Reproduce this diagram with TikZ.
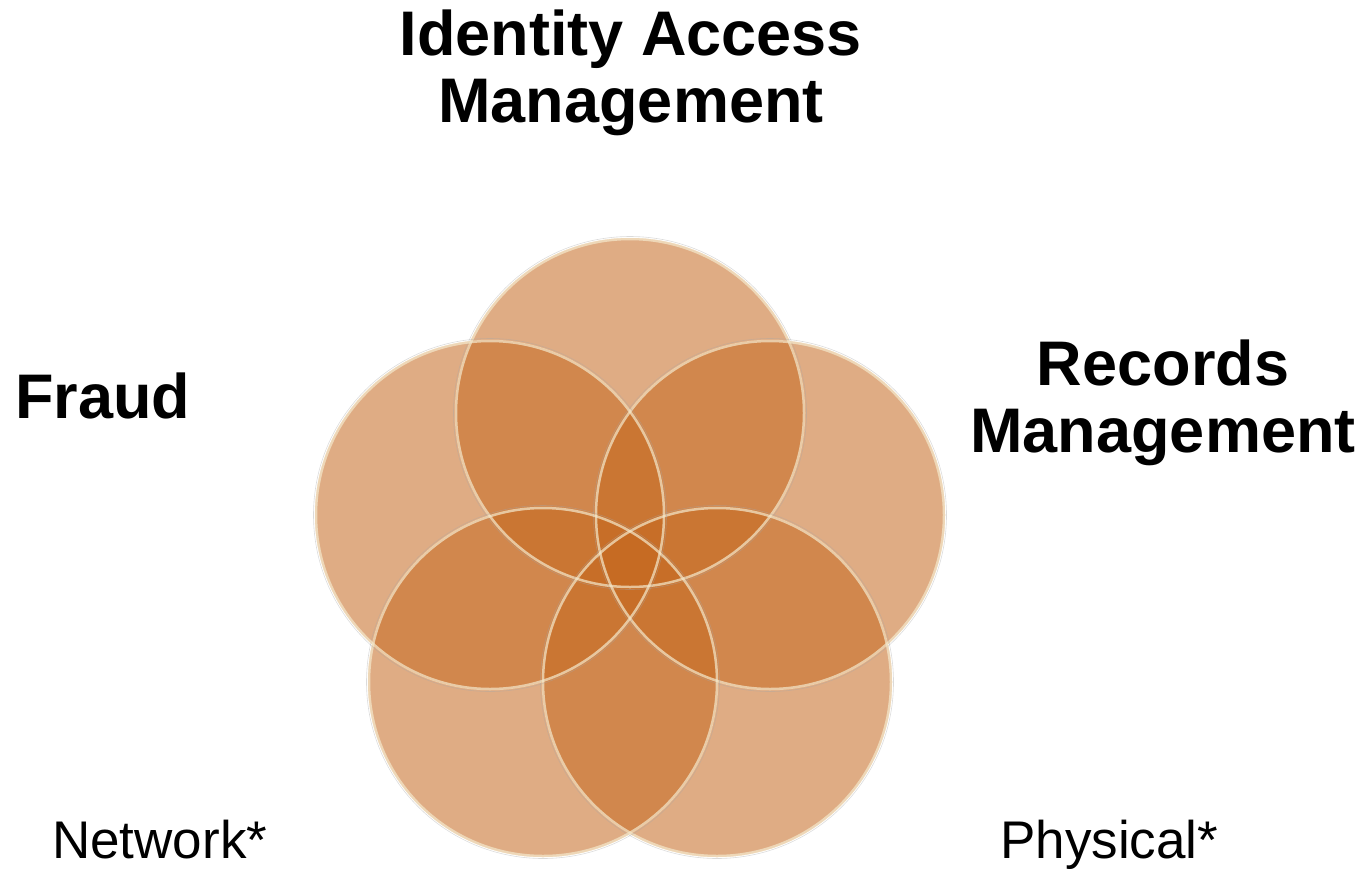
\documentclass[tikz,border=0pt]{standalone}
\usepackage{fontspec}
\setmainfont{Liberation Sans}
\usepackage{xcolor}
\usetikzlibrary{calc,positioning}
\definecolor{petalfill}{RGB}{197,104,31}
\definecolor{petalrim}{RGB}{244,234,206}
\tikzset{
  petal/.style={circle,minimum size=350pt,inner sep=0pt,fill=petalfill,fill opacity=.55},
  rim/.style={draw=petalrim,line width=2.5pt,draw opacity=.7},
  shade/.style={draw=black!35,line width=.6pt,draw opacity=.4},
  bigtitle/.style={font=\fontsize{63}{67}\selectfont\bfseries,align=center,inner sep=0pt,anchor=base},
  smalltitle/.style={font=\fontsize{53}{60}\selectfont,inner sep=0pt,anchor=base west}
}

\begin{document}
\begin{tikzpicture}[x=1pt,y=-1pt]
\useasboundingbox (0,0) rectangle (1368,868);

% Draw the five overlapping circles.
\foreach \N/\X/\Y in {top/630/413,right/770/515,botright/717/682,botleft/543/682,left/490/515}
\node[petal] (\N) at (\X,\Y) {};

% Draw the glassy rims.
\foreach \N in {top,right,botright,botleft,left}{
\draw[shade] (\N.center) circle [radius=176.5];
\draw[rim] (\N.center) circle [radius=174];
}

% Labels round the circles.
\node[bigtitle] (iam) at (631,122) {Identity Access\\Management};
\node[bigtitle] (rec) at (1163,452) {Records\\Management};
\node[bigtitle,anchor=base west] (fraud) at (15,418) {Fraud};
\node[smalltitle] (net) at (52,858) {Network*};
\node[smalltitle] (phys) at (1000,858) {Physical*};
\end{tikzpicture}
\end{document}
